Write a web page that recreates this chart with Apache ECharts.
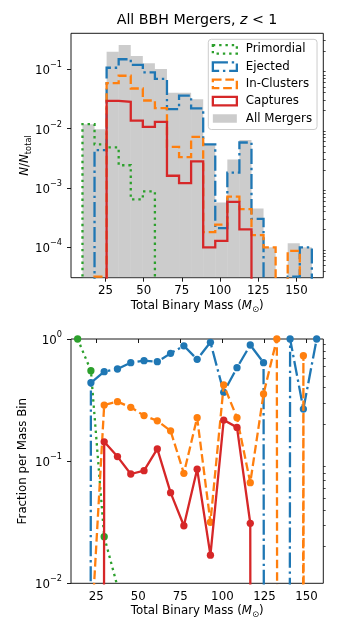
<!DOCTYPE html>
<html><head><meta charset="utf-8">
<script src="https://cdn.jsdelivr.net/npm/echarts@6/dist/echarts.min.js"></script>
<style>html,body{margin:0;padding:0;background:#fff}#c{width:340px;height:638px}</style>
</head><body><div id="c"></div>
<script>
// ---------------- data ----------------
const binEdges = [10, 17.89, 25.79, 33.68, 41.58, 49.47, 57.37, 65.26, 73.16, 81.05, 88.95,
                  96.84, 104.74, 112.63, 120.53, 128.42, 136.32, 144.21, 152.11, 160];
// top panel: N / N_total per mass bin
const primordial = [0.0118, 0.0054, 0.0048, 0.0024, 0.00064, 0.00087, 0, 0, 0, 0, 0, 0, 0, 0, 0, 0, 0, 0, 0];
const ejected    = [0, 0.00433, 0.105, 0.146, 0.117, 0.088, 0.068, 0.0212, 0.0356, 0.0218, 0.0054,
                    0.00021, 0.0018, 0.0058, 0.00030, 0, 0, 0.000032, 0.0001];
const inClusters = [0, 0.000032, 0.058, 0.077, 0.047, 0.0295, 0.022, 0.0049, 0.0033, 0.0072, 0.00018,
                    0.00024, 0.00071, 0.00044, 0.00016, 0.0001, 0, 0.000087, 0];
const captures   = [0, 0, 0.029, 0.028, 0.0135, 0.0106, 0.0129, 0.0016, 0.0012, 0.0028, 0.0001,
                    0.000128, 0.00058, 0.0002, 0, 0, 0, 0, 0];
const allMergers = [0.0118, 0.0097, 0.195, 0.254, 0.166, 0.125, 0.100, 0.040, 0.040, 0.031, 0.0054,
                    0.00057, 0.0030, 0.0064, 0.00045, 0.0001, 0, 0.000117, 0.0001];
// bottom panel: fraction per mass bin
const fracPrimordial = [1.0, 0.55, 0.0241, 0.0094, 0.0039, 0.007, 0, 0, 0, 0, 0, 0, 0, 0, 0, 0, 0, 0, 0];
const fracEjected    = [0, 0.439, 0.54, 0.568, 0.64, 0.664, 0.652, 0.763, 0.88, 0.682, 0.94,
                        0.366, 0.582, 0.893, 0.64, 0, 1.0, 0.267, 1.0];
const fracInClusters = [0, 0.0034, 0.288, 0.307, 0.276, 0.236, 0.214, 0.177, 0.0795, 0.227, 0.0316,
                        0.42, 0.227, 0.0667, 0.355, 1.0, 0, 0.73, 0];
const fracCaptures   = [0, 0, 0.144, 0.109, 0.0785, 0.0836, 0.126, 0.0552, 0.0296, 0.086, 0.017,
                        0.217, 0.189, 0.031, 0, 0, 0, 0, 0];
// ticks
const xTickValues = [25, 50, 75, 100, 125, 150];
const topYTickExponents = [-4, -3, -2, -1];
const bottomYTickExponents = [-2, -1, 0];
const minorMultipliers = [2, 3, 4, 5, 6, 7, 8, 9];
const seriesNames = ['Primordial', 'Ejected', 'In-Clusters', 'Captures', 'All Mergers'];

// ---------------- styling / helpers ----------------
const FONT = 'DejaVu Sans';
const COL = {green: '#2ca02c', blue: '#1f77b4', orange: '#ff7f0e', red: '#d62728', grey: 'rgba(128,128,128,0.4)'};
const DASH = {dotted: [2.4, 3.9], dashdot: [15.1, 3.8, 2.4, 3.8], dashed: [8.7, 3.8], solid: 'solid'};
const LW = 2.3;
const TOP_X = [2.5, 167.5], BOT_X = [10, 160];
const TOP_Y = [-4.5115, -0.3993], BOT_Y = [-2, 0];
const FLOOR = -100; // log10 of "zero" (far below the axis, like matplotlib's clipping)

const lg = v => (v > 0 ? Math.log10(v) : FLOOR);
function stepPoints(vals) {
  const pts = [[binEdges[0], FLOOR]];
  vals.forEach((v, i) => { pts.push([binEdges[i], lg(v)]); pts.push([binEdges[i + 1], lg(v)]); });
  pts.push([binEdges[vals.length], FLOOR]);
  return pts;
}
const binCenters = binEdges.slice(0, -1).map((e, i) => (e + binEdges[i + 1]) / 2);
const pointSeries = vals => vals.map((v, i) => [binCenters[i], lg(v)]);
function minorTicks(range) {
  const out = [];
  for (let e = -6; e <= 0; e++) minorMultipliers.forEach(k => {
    const t = Math.log10(k) + e; if (t > range[0] && t < range[1]) out.push(t);
  });
  return out;
}
const expLabel = v => { const k = Math.round(v); return '{b|10}{s|' + (k < 0 ? '\u2212' + (-k) : k) + '}'; };
const txt = {color: '#000', fontFamily: FONT};
const massName = '{n|Total Binary Mass (}{i|M}{s|\u2299}{n|)}';
const massRich = {
  n: {fontSize: 11.8, fontFamily: FONT, color: '#000', lineHeight: 14, verticalAlign: 'top'},
  i: {fontSize: 11.8, fontFamily: FONT, color: '#000', fontStyle: 'italic', lineHeight: 14, verticalAlign: 'top'},
  s: {fontSize: 8.3, fontFamily: FONT, color: '#000', lineHeight: 10, padding: [6, 0, 0, 0], verticalAlign: 'top'}
};
const labelRich = {
  b: {fontSize: 11.8, fontFamily: FONT, color: '#000', lineHeight: 16, verticalAlign: 'bottom'},
  s: {fontSize: 8.2, fontFamily: FONT, color: '#000', lineHeight: 11, verticalAlign: 'top'}
};

function xAxis(grid, range) {
  return {
    gridIndex: grid, type: 'value', min: range[0], max: range[1],
    axisLine: {show: false}, splitLine: {show: false},
    axisTick: {show: true, customValues: xTickValues, length: 4, lineStyle: {color: '#000', width: 0.9}},
    axisLabel: {customValues: xTickValues, margin: 7.5, fontSize: 11.8, ...txt},
    name: massName, nameLocation: 'middle', nameGap: 22, nameMoveOverlap: false,
    nameTextStyle: {fontSize: 11.8, ...txt, rich: massRich}
  };
}
function yAxisMajor(grid, range, ticks, name, nameRich, gap) {
  return {
    gridIndex: grid, type: 'value', min: range[0], max: range[1],
    axisLine: {show: false}, splitLine: {show: false},
    axisTick: {show: true, customValues: ticks, length: 4, lineStyle: {color: '#000', width: 0.9}},
    axisLabel: {customValues: ticks, margin: 9, formatter: expLabel, rich: labelRich, ...txt},
    name: name, nameLocation: 'middle', nameRotate: 90, nameGap: gap, nameMoveOverlap: false,
    nameTextStyle: {fontSize: 11.8, ...txt, rich: nameRich}
  };
}
function yAxisMinor(grid, range) {
  return {
    gridIndex: grid, type: 'value', min: range[0], max: range[1],
    axisLine: {show: false}, splitLine: {show: false}, axisLabel: {show: false},
    axisTick: {show: true, customValues: minorTicks(range), length: 2.4, lineStyle: {color: '#000', width: 0.7}}
  };
}
function stepLine(name, vals, color, dash, z) {
  return {
    name, type: 'line', xAxisIndex: 0, yAxisIndex: 0, data: stepPoints(vals),
    symbol: 'none', showSymbol: false, clip: true, z, animation: false,
    lineStyle: {color, width: LW, type: dash, cap: 'butt', join: 'miter'}, itemStyle: {color}
  };
}
function fracLine(name, vals, color, dash, z) {
  return {
    name, type: 'line', xAxisIndex: 1, yAxisIndex: 2, data: pointSeries(vals),
    symbol: 'circle', symbolSize: 7.3, showSymbol: true, clip: true, z, animation: false,
    lineStyle: {color, width: LW, type: dash, cap: 'butt'}, itemStyle: {color, borderWidth: 0}
  };
}

const greyBars = {
  name: 'All Mergers', type: 'custom', xAxisIndex: 0, yAxisIndex: 0, z: 1, animation: false,
  data: allMergers.map((v, i) => [binEdges[i], binEdges[i + 1], lg(v)]).filter(d => d[2] > FLOOR),
  encode: {x: [0, 1], y: 2},
  renderItem(params, api) {
    const p0 = api.coord([api.value(0), api.value(2)]);
    const p1 = api.coord([api.value(1), TOP_Y[0]]);
    return {type: 'rect', shape: {x: p0[0], y: p0[1], width: p1[0] - p0[0], height: p1[1] - p0[1]},
            style: {fill: COL.grey}};
  }
};

const option = {
  backgroundColor: '#fff',
  animation: false,
  title: {
    text: 'All BBH Mergers, {i|z} < 1', left: 197, top: 13.5, padding: 0, textAlign: 'center',
    textStyle: {fontSize: 14.2, fontWeight: 'normal', ...txt,
      rich: {i: {fontSize: 14.2, fontStyle: 'italic', fontFamily: FONT, color: '#000'}}}
  },
  grid: [
    {left: 71, top: 33.3, width: 252.3, height: 244.4, show: true, borderColor: '#000', borderWidth: 0.9, backgroundColor: 'transparent'},
    {left: 71, top: 339, width: 252.3, height: 244.3, show: true, borderColor: '#000', borderWidth: 0.9, backgroundColor: 'transparent'}
  ],
  xAxis: [xAxis(0, TOP_X), xAxis(1, BOT_X)],
  yAxis: [
    yAxisMajor(0, TOP_Y, topYTickExponents, '{i|N}{n|/}{i|N}{s|total}', {
      i: {fontSize: 11.8, fontStyle: 'italic', fontFamily: FONT, color: '#000', lineHeight: 14, verticalAlign: 'top'},
      n: {fontSize: 11.8, fontFamily: FONT, color: '#000', lineHeight: 14, verticalAlign: 'top'},
      s: {fontSize: 8.3, fontFamily: FONT, color: '#000', lineHeight: 10, padding: [6, 0, 0, 0], verticalAlign: 'top'}
    }, 38.5),
    yAxisMinor(0, TOP_Y),
    yAxisMajor(1, BOT_Y, bottomYTickExponents, 'Fraction per Mass Bin', {}, 41.6),
    yAxisMinor(1, BOT_Y)
  ],
  legend: {
    orient: 'vertical', left: 208.3, top: 39.3, padding: [3, 5, 4, 3.4], itemGap: 3.3,
    itemWidth: 24, itemHeight: 8.5, selectedMode: false,
    backgroundColor: 'rgba(255,255,255,0.8)', borderColor: '#cccccc', borderWidth: 1, borderRadius: 3,
    textStyle: {fontSize: 11.8, ...txt, lineHeight: 14, padding: [0, 0, 0, 4]},
    data: [
      {name: seriesNames[0], icon: 'rect', itemStyle: {color: 'rgba(0,0,0,0)', borderColor: COL.green, borderWidth: LW, borderType: DASH.dotted}},
      {name: seriesNames[1], icon: 'rect', itemStyle: {color: 'rgba(0,0,0,0)', borderColor: COL.blue, borderWidth: LW, borderType: DASH.dashdot}},
      {name: seriesNames[2], icon: 'rect', itemStyle: {color: 'rgba(0,0,0,0)', borderColor: COL.orange, borderWidth: LW, borderType: DASH.dashed}},
      {name: seriesNames[3], icon: 'rect', itemStyle: {color: 'rgba(0,0,0,0)', borderColor: COL.red, borderWidth: LW, borderType: 'solid'}},
      {name: seriesNames[4], icon: 'rect', itemStyle: {color: COL.grey, borderWidth: 0}}
    ]
  },
  series: [
    greyBars,
    stepLine(seriesNames[0], primordial, COL.green, DASH.dotted, 2),
    stepLine(seriesNames[1], ejected, COL.blue, DASH.dashdot, 3),
    stepLine(seriesNames[2], inClusters, COL.orange, DASH.dashed, 4),
    stepLine(seriesNames[3], captures, COL.red, DASH.solid, 5),
    fracLine(seriesNames[0], fracPrimordial, COL.green, DASH.dotted, 2),
    fracLine(seriesNames[1], fracEjected, COL.blue, DASH.dashdot, 3),
    fracLine(seriesNames[2], fracInClusters, COL.orange, DASH.dashed, 4),
    fracLine(seriesNames[3], fracCaptures, COL.red, DASH.solid, 5)
  ]
};
const chart = echarts.init(document.getElementById('c'), null, {renderer: 'canvas', width: 340, height: 638});
chart.setOption(option);
</script>
</body></html>
